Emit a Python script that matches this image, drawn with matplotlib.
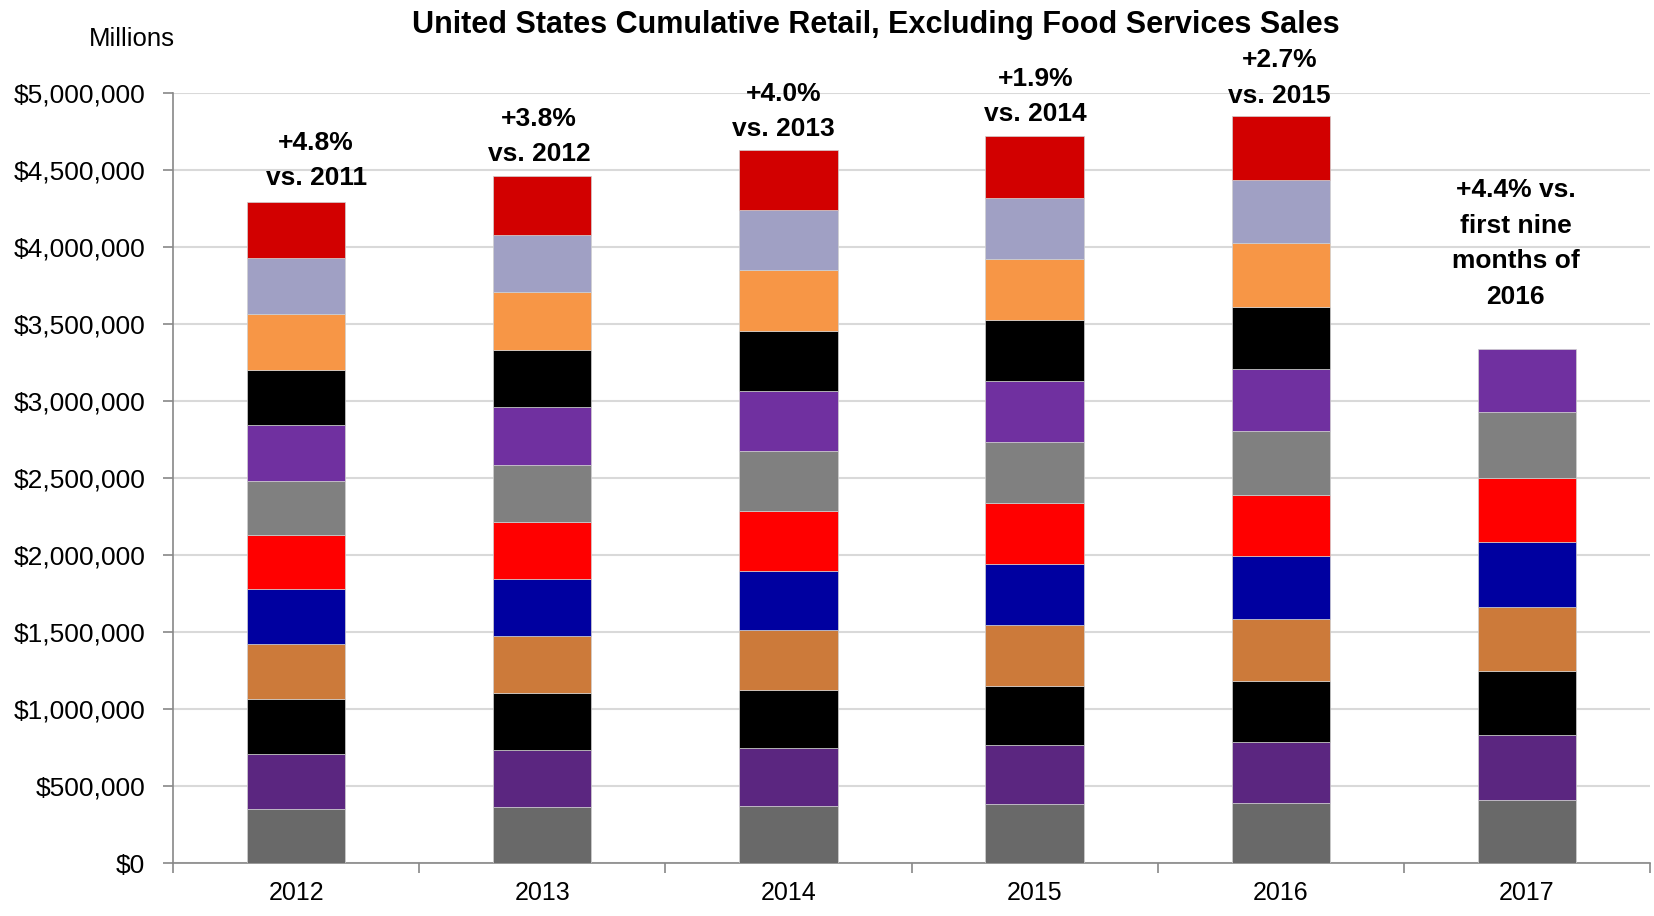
import numpy as np
import matplotlib
matplotlib.use('Agg')
from matplotlib import pyplot as plt

plt.rcParams['font.family'] = ['Liberation Sans', 'DejaVu Sans']

years = ['2012', '2013', '2014', '2015', '2016', '2017']

# monthly sales, millions of dollars
sales_2012 = [350000, 359000, 356000, 359000, 356000, 350000, 353000, 358000, 362000, 362000, 364000, 362000]
sales_2013 = [367000, 368000, 367000, 371000, 370000, 370000, 374000, 373000, 368000, 376000, 373000, 382000]
sales_2014 = [371000, 375000, 381000, 387000, 384000, 391000, 387000, 391000, 390000, 391000, 393000, 385000]
sales_2015 = [384000, 381000, 387000, 394000, 394000, 397000, 397000, 394000, 397000, 397000, 397000, 400000]
sales_2016 = [391000, 397000, 398000, 401000, 404000, 401000, 411000, 401000, 404000, 414000, 414000, 414000]
sales_2017 = [411000, 424000, 411000, 420000, 418000, 417000, 424000, 414000]
monthly = [sales_2012, sales_2013, sales_2014, sales_2015, sales_2016, sales_2017]

notes = ['+4.8%\nvs. 2011', '+3.8%\nvs. 2012', '+4.0%\nvs. 2013',
         '+1.9%\nvs. 2014', '+2.7%\nvs. 2015',
         '+4.4% vs.\nfirst nine\nmonths of\n2016']

month_colors = ['#696969', '#5B2680', '#000000', '#CC7A3A', '#0000A0', '#FF0000',
                '#808080', '#7030A0', '#000000', '#F79646', '#A0A0C4', '#D20000']

fig = plt.figure(figsize=(16.54, 9.16), dpi=100)
ax = fig.add_axes([173 / 1654, 1 - 863.3 / 916, 1477 / 1654, (863.3 - 92.7) / 916])

x = np.arange(len(years))
for i, vals in enumerate(monthly):
    bottom = 0
    for m, v in enumerate(vals):
        ax.bar(x[i], v, width=0.4, bottom=bottom, color=month_colors[m],
               edgecolor='#d0d0d0', linewidth=0.5, zorder=3)
        bottom += v

# growth notes above each bar
offsets = [(20, 12), (-3, 10), (-5, 9), (1, 10), (-1, 8), (-11, 40)]
for i, vals in enumerate(monthly):
    ax.annotate(notes[i], (x[i], sum(vals)), xytext=offsets[i],
                textcoords='offset pixels', ha='center', va='bottom',
                fontsize=19, fontweight='bold', linespacing=1.6,
                annotation_clip=False)

ax.set_xlim(-0.5, len(years) - 0.5)
ax.set_ylim(0, 5000000)
ax.set_yticks(np.arange(0, 5000001, 500000))
ax.set_yticklabels(['${:,.0f}'.format(v) for v in np.arange(0, 5000001, 500000)])
ax.yaxis.grid(True, color='#d9d9d9', linewidth=1.5, zorder=0)
ax.set_axisbelow(True)

ax.set_xticks(np.arange(-0.5, len(years), 1.0))
ax.set_xticklabels([])
ax.set_xticks(x, minor=True)
ax.set_xticklabels(years, minor=True)
ax.tick_params(axis='x', which='major', length=7, width=1.2, color='#888888', direction='out')
ax.tick_params(axis='x', which='minor', length=0, pad=13, labelsize=18)
ax.tick_params(axis='y', length=7, width=1.2, color='#888888', direction='out',
               pad=13, labelsize=19)

for s in ['top', 'right']:
    ax.spines[s].set_visible(False)
for s in ['left', 'bottom']:
    ax.spines[s].set_color('#888888')
    ax.spines[s].set_linewidth(1.2)

fig.text(132 / 1654, 1 - 39 / 916, 'Millions', ha='center', va='center', fontsize=18.5)
fig.text(876 / 1654, 1 - 25 / 916, 'United States Cumulative Retail, Excluding Food Services Sales',
         ha='center', va='center', fontsize=22, fontweight='bold')

fig.savefig('out.png', dpi=100)
